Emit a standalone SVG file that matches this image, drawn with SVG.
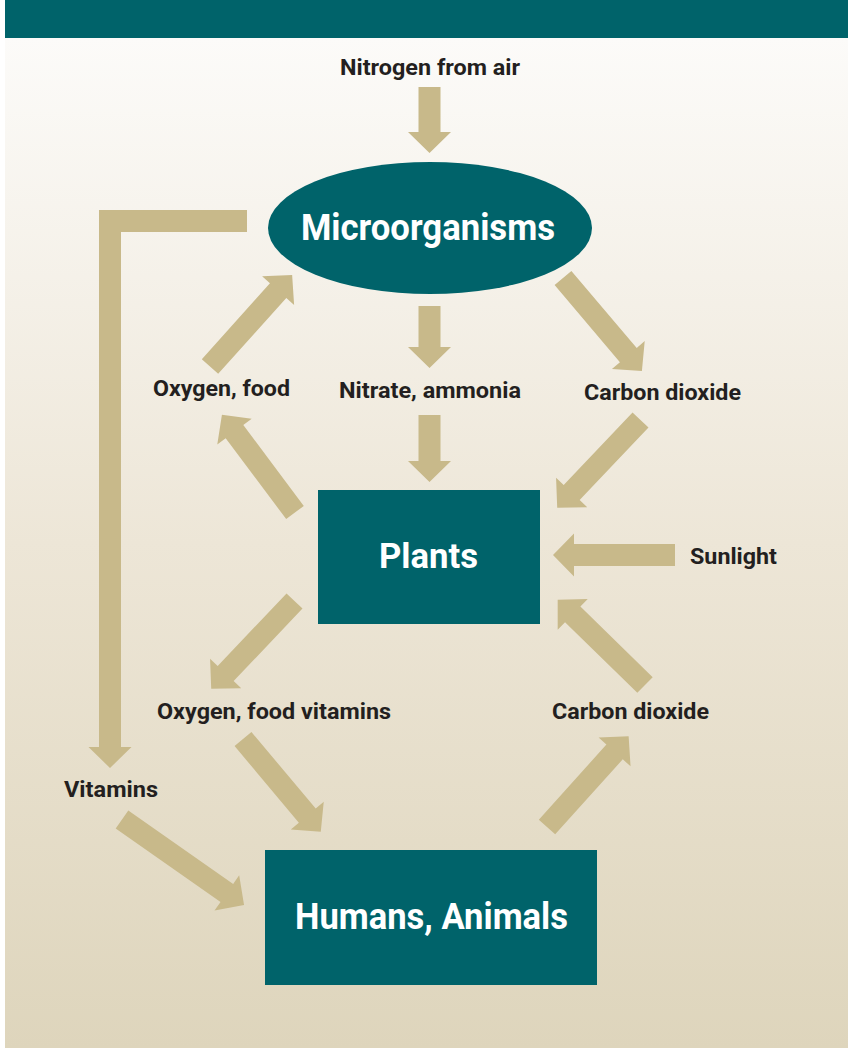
<svg xmlns="http://www.w3.org/2000/svg" width="848" height="1048" viewBox="0 0 848 1048">
  <defs>
    <linearGradient id="bg" x1="0" y1="0" x2="0" y2="1">
      <stop offset="0" stop-color="#fcfbf9"/>
      <stop offset="0.5" stop-color="#ede6d7"/>
      <stop offset="1" stop-color="#ded5bc"/>
    </linearGradient>
  </defs>
  <style>
    .arr { fill: #c8b98a; }
    .node { fill: #00636a; }
    .lbl { font-family: Roboto, "Liberation Sans", sans-serif; font-weight: 700; font-size: 22px; fill: #231f20; text-anchor: middle; }
    .nlbl { font-family: Roboto, "Liberation Sans", sans-serif; font-weight: 700; fill: #ffffff; text-anchor: middle; }
  </style>
  <rect x="0" y="0" width="848" height="1048" fill="#ffffff"/>
  <rect x="5" y="38" width="843" height="1010" fill="url(#bg)"/>
  <rect x="5" y="0" width="843" height="38" fill="#00636a"/>

  <g id="connectors">
    <polygon class="arr" transform="translate(429.5,87) rotate(90)" points="0,-11 45,-11 45,-21.5 66,0 45,21.5 45,11 0,11"/>
    <path class="arr" d="M247,210 H99 V747 H88.5 L110,768 L131.5,747 H121 V232 H247 Z"/>
    <polygon class="arr" transform="translate(210,366.5) rotate(-48.1)" points="0,-11 102,-11 102,-21.5 123,0 102,21.5 102,11 0,11"/>
    <polygon class="arr" transform="translate(563,278) rotate(49.7)" points="0,-11 101,-11 101,-21.5 122,0 101,21.5 101,11 0,11"/>
    <polygon class="arr" transform="translate(429.5,306) rotate(90)" points="0,-11 41,-11 41,-21.5 62,0 41,21.5 41,11 0,11"/>
    <polygon class="arr" transform="translate(429.5,415) rotate(90)" points="0,-11 46,-11 46,-21.5 67,0 46,21.5 46,11 0,11"/>
    <polygon class="arr" transform="translate(295,512.5) rotate(-126.8)" points="0,-11 101,-11 101,-21.5 122,0 101,21.5 101,11 0,11"/>
    <polygon class="arr" transform="translate(640.5,420) rotate(133.5)" points="0,-11 100,-11 100,-21.5 121,0 100,21.5 100,11 0,11"/>
    <polygon class="arr" transform="translate(675,555) rotate(180)" points="0,-11 101,-11 101,-21.5 122,0 101,21.5 101,11 0,11"/>
    <polygon class="arr" transform="translate(294.5,601) rotate(133.5)" points="0,-11 100,-11 100,-21.5 121,0 100,21.5 100,11 0,11"/>
    <polygon class="arr" transform="translate(645,685) rotate(-135.7)" points="0,-11 101,-11 101,-21.5 122,0 101,21.5 101,11 0,11"/>
    <polygon class="arr" transform="translate(243,739) rotate(50)" points="0,-11 100,-11 100,-21.5 121,0 100,21.5 100,11 0,11"/>
    <polygon class="arr" transform="translate(122,819.5) rotate(35)" points="0,-11 128,-11 128,-21.5 149,0 128,21.5 128,11 0,11"/>
    <polygon class="arr" transform="translate(547,827) rotate(-48)" points="0,-11 101,-11 101,-21.5 122,0 101,21.5 101,11 0,11"/>
  </g>

  <g id="labels">
    <text class="lbl" x="430" y="75" textLength="180" lengthAdjust="spacingAndGlyphs">Nitrogen from air</text>
    <text class="lbl" x="221.5" y="396" textLength="137" lengthAdjust="spacingAndGlyphs">Oxygen, food</text>
    <text class="lbl" x="430" y="398" textLength="182" lengthAdjust="spacingAndGlyphs">Nitrate, ammonia</text>
    <text class="lbl" x="662.5" y="400" textLength="157" lengthAdjust="spacingAndGlyphs">Carbon dioxide</text>
    <text class="lbl" x="733.5" y="564" textLength="87" lengthAdjust="spacingAndGlyphs">Sunlight</text>
    <text class="lbl" x="274" y="719" textLength="234" lengthAdjust="spacingAndGlyphs">Oxygen, food vitamins</text>
    <text class="lbl" x="630.5" y="719" textLength="157" lengthAdjust="spacingAndGlyphs">Carbon dioxide</text>
    <text class="lbl" x="111" y="797" textLength="94" lengthAdjust="spacingAndGlyphs">Vitamins</text>
  </g>

  <g id="microorganisms">
    <ellipse class="node" cx="430" cy="228" rx="162" ry="66"/>
    <text class="nlbl" x="428" y="240" font-size="36" textLength="254" lengthAdjust="spacingAndGlyphs">Microorganisms</text>
  </g>
  <g id="plants">
    <rect class="node" x="318" y="490" width="222" height="134"/>
    <text class="nlbl" x="428.5" y="568" font-size="35" textLength="99" lengthAdjust="spacingAndGlyphs">Plants</text>
  </g>
  <g id="humans-animals">
    <rect class="node" x="265" y="850" width="332" height="135"/>
    <text class="nlbl" x="431.5" y="929" font-size="36" textLength="273" lengthAdjust="spacingAndGlyphs">Humans, Animals</text>
  </g>
</svg>
